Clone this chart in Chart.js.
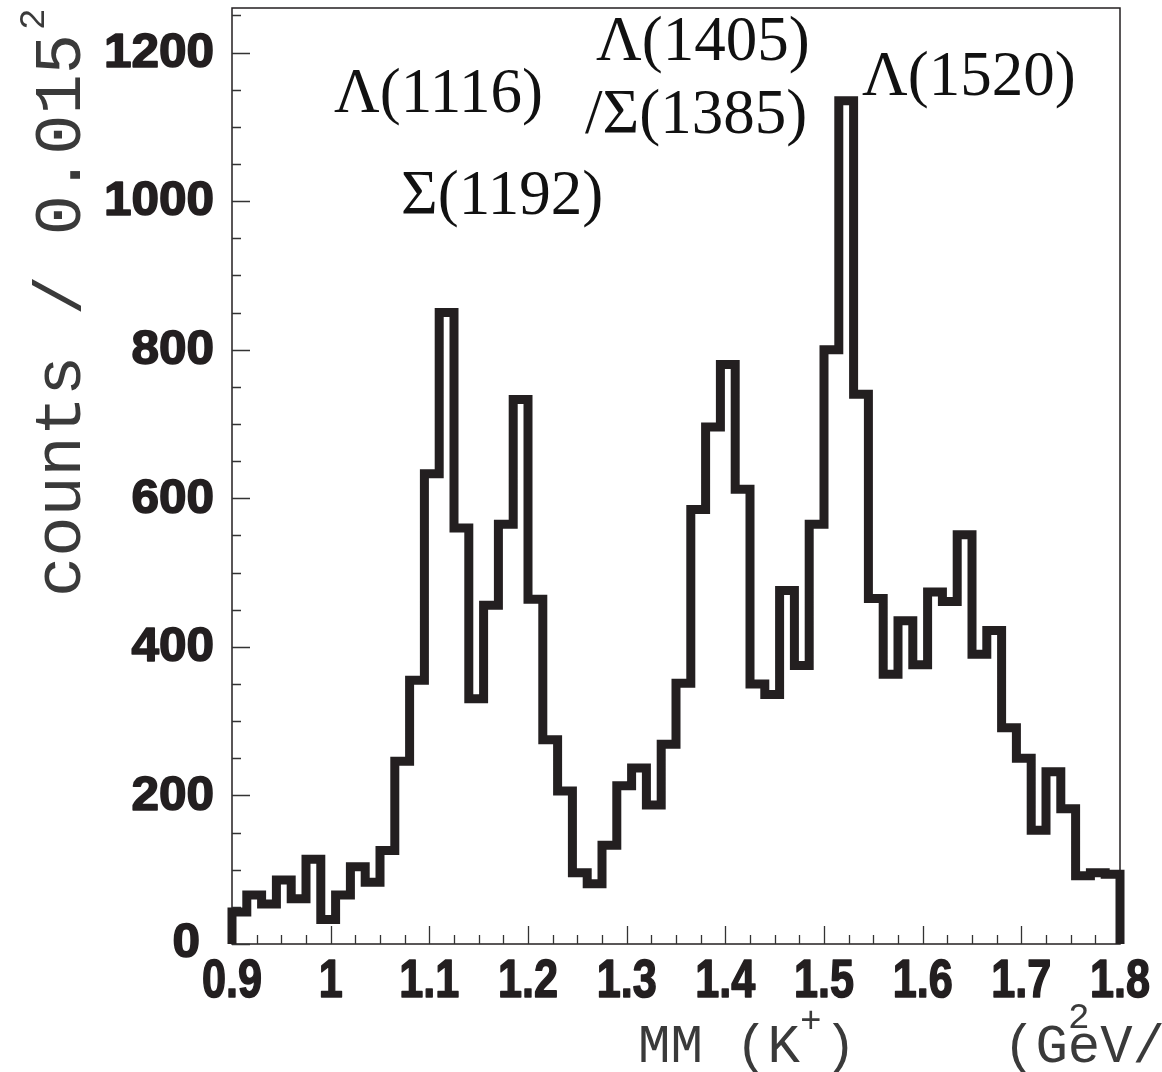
<!DOCTYPE html>
<html><head><meta charset="utf-8">
<script src="https://cdn.jsdelivr.net/npm/chart.js@4.4.1/dist/chart.umd.min.js"></script>
<style>html,body{margin:0;padding:0;background:#fff;}#wrap{width:1162px;height:1072px;}</style>
</head><body><div id="wrap"><canvas id="c" width="1162" height="1072"></canvas></div>
<script>
// ---- data ----
const binStart = 0.9;
const binWidth = 0.015;
const counts = [43, 66, 54, 86, 61, 114, 33, 66, 104, 83,
                126, 246, 355, 633, 850, 560, 330, 456, 565, 733,
                464, 275, 206, 96, 81, 133, 213, 237, 187, 269,
                351, 585, 696, 780, 612, 350, 336, 476, 375, 565,
                800, 1135, 740, 465, 363, 435, 376, 474, 461, 551,
                390, 422, 291, 250, 153, 232, 182, 92, 96, 94];
const xTicks = [0.9, 1.0, 1.1, 1.2, 1.3, 1.4, 1.5, 1.6, 1.7, 1.8];
const yTicks = [0, 200, 400, 600, 800, 1000, 1200];
const peakLabels = ['Λ(1116)', 'Σ(1192)', 'Λ(1405)', '/Σ(1385)', 'Λ(1520)'];
const xTitle = ['MM (K', '+', ')', '(GeV/c)', '2'];
const yTitle = ['counts / 0.015', '2'];

// histogram outline built from the bins
const outline = [{x: binStart, y: 0}];
counts.forEach((v, i) => {
  const lo = +(binStart + i * binWidth).toFixed(4);
  const hi = +(binStart + (i + 1) * binWidth).toFixed(4);
  outline.push({x: lo, y: v}, {x: hi, y: v});
});
outline.push({x: +(binStart + counts.length * binWidth).toFixed(4), y: 0});

const INK = '#231f20';

const framePlugin = {
  id: 'frame',
  beforeDatasetsDraw(chart) {
    const {ctx, chartArea: a, scales: {x, y}} = chart;
    ctx.save();
    ctx.strokeStyle = INK;
    ctx.lineWidth = 1.5;
    ctx.strokeRect(a.left, a.top, a.right - a.left, a.bottom - a.top);
    ctx.strokeStyle = '#333';
    ctx.lineWidth = 1.3;
    ctx.beginPath();
    for (let v = 0; v <= 1250; v += 50) {
      const py = Math.round(y.getPixelForValue(v)) + 0.5;
      const len = (v % 200 === 0) ? 18 : 9;
      ctx.moveTo(a.left, py); ctx.lineTo(a.left + len, py);
    }
    for (let k = 0; k <= 36; k++) {
      const v = 0.9 + k * 0.025;
      const px = Math.round(x.getPixelForValue(v)) + 0.5;
      const len = (k % 4 === 0) ? 18 : 9;
      ctx.moveTo(px, a.bottom); ctx.lineTo(px, a.bottom - len);
    }
    ctx.stroke();
    ctx.restore();
  }
};

const textPlugin = {
  id: 'texts',
  afterDraw(chart) {
    const {ctx, chartArea: a, scales: {x, y}} = chart;
    ctx.save();
    ctx.fillStyle = INK;
    ctx.strokeStyle = INK;
    ctx.lineWidth = 1.6;
    ctx.lineJoin = 'round';
    // y tick labels (heavy)
    ctx.font = 'bold 48px "Liberation Sans", Arial, sans-serif';
    ctx.textAlign = 'right';
    ctx.textBaseline = 'middle';
    yTicks.forEach(v => {
      const py = y.getPixelForValue(v) + (v === 0 ? 0 : 1);
      const px = v === 0 ? 200 : a.left - 18;
      ctx.save();
      ctx.translate(px, py);
      ctx.scale(1.03, 1);
      ctx.fillText(String(v), 0, 0);
      ctx.strokeText(String(v), 0, 0);
      ctx.restore();
    });
    // x tick labels (condensed)
    ctx.font = 'bold 54px "Liberation Sans", Arial, sans-serif';
    ctx.textAlign = 'center';
    ctx.textBaseline = 'alphabetic';
    xTicks.forEach(v => {
      const px = x.getPixelForValue(v);
      ctx.save();
      ctx.translate(px, 997);
      ctx.scale(0.8, 1);
      ctx.fillText(String(v), 0, 0);
      ctx.strokeText(String(v), 0, 0);
      ctx.restore();
    });

    // peak annotations
    ctx.fillStyle = '#111';
    ctx.font = '63px "Liberation Serif", "Times New Roman", serif';
    ctx.textAlign = 'left';
    const pos = [[334, 112], [401, 214], [596, 60], [585, 133], [862, 95]];
    peakLabels.forEach((t, i) => ctx.fillText(t, pos[i][0], pos[i][1]));

    // x title
    ctx.fillStyle = '#3a3a3a';
    ctx.font = '54px "Liberation Mono", "DejaVu Sans Mono", monospace';
    ctx.fillText(xTitle[0], 638, 1062);
    let w = ctx.measureText(xTitle[0]).width;
    ctx.font = '36px "Liberation Mono", "DejaVu Sans Mono", monospace';
    ctx.fillText(xTitle[1], 638 + w, 1032);
    ctx.font = '54px "Liberation Mono", "DejaVu Sans Mono", monospace';
    ctx.fillText(xTitle[2], 638 + w + 24, 1062);
    ctx.fillText(xTitle[3], 1003, 1062);
    ctx.font = '36px "Liberation Mono", "DejaVu Sans Mono", monospace';
    ctx.fillText(xTitle[4], 1068, 1028);

    // y title
    ctx.translate(80, 597);
    ctx.rotate(-Math.PI / 2);
    ctx.font = '67px "Liberation Mono", "DejaVu Sans Mono", monospace';
    ctx.fillText(yTitle[0], 0, 0);
    w = ctx.measureText(yTitle[0]).width;
    ctx.font = '36px "Liberation Mono", "DejaVu Sans Mono", monospace';
    ctx.fillText(yTitle[1], w + 4, -36);
    ctx.restore();
  }
};

new Chart(document.getElementById('c'), {
  type: 'line',
  data: {
    datasets: [{
      data: outline,
      borderColor: INK,
      borderWidth: 9,
      borderJoinStyle: 'miter',
      borderCapStyle: 'butt',
      pointRadius: 0,
      fill: false,
      tension: 0,
      clip: 8
    }]
  },
  options: {
    responsive: false,
    animation: false,
    devicePixelRatio: 1,
    layout: {padding: {top: 8, right: 42, left: 0, bottom: 0}},
    plugins: {legend: {display: false}, tooltip: {enabled: false}},
    scales: {
      x: {
        type: 'linear', min: 0.9, max: 1.8,
        afterBuildTicks: s => { s.ticks = xTicks.map(v => ({value: v})); },
        afterFit: s => { s.height = 128; s.paddingLeft = 0; s.paddingRight = 0; },
        grid: {display: false, drawTicks: false},
        border: {display: false},
        ticks: {display: false}
      },
      y: {
        type: 'linear', min: 0, max: 1260,
        afterBuildTicks: s => { s.ticks = yTicks.map(v => ({value: v})); },
        afterFit: s => { s.width = 232; s.paddingTop = 0; s.paddingBottom = 0; },
        grid: {display: false, drawTicks: false},
        border: {display: false},
        ticks: {display: false}
      }
    }
  },
  plugins: [framePlugin, textPlugin]
});
</script>
</body></html>
